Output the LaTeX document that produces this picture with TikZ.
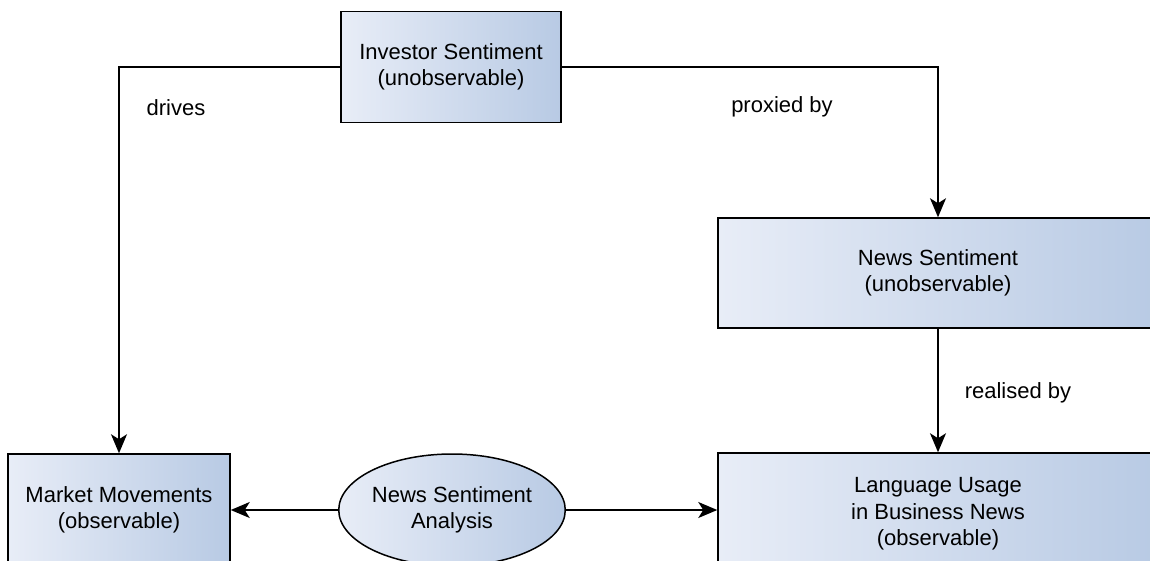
\documentclass[tikz,border=0pt]{standalone}
\usepackage{fontspec}
\setmainfont{Liberation Sans}
\usetikzlibrary{arrows.meta,shapes.geometric}
\definecolor{fillL}{RGB}{232,237,247}
\definecolor{fillR}{RGB}{184,202,228}
\tikzset{
  base/.style={draw=black, line width=1.5pt, left color=fillL, right color=fillR,
    align=center, inner sep=0pt, font=\fontsize{22}{26.5}\selectfont},
  box/.style={base, rectangle},
  oval/.style={base, ellipse},
  conn/.style={line width=1.5pt, -{Stealth[length=19pt,width=16pt,inset=5pt]}},
  lbl/.style={font=\fontsize{22}{26.5}\selectfont, inner sep=0pt}
}
\begin{document}
\begin{tikzpicture}[x=1pt,y=-1pt]
  \useasboundingbox (0,0) rectangle (1150,560);
  \clip (0,0) rectangle (1150,560);
  \fill[white] (0,0) rectangle (1150,560);

  % boxes
  \node[box, minimum width=220pt, minimum height=111pt] (inv) at (451,67)
    {Investor Sentiment\\(unobservable)};
  \node[box, minimum width=440pt, minimum height=110pt] (ns) at (938,273)
    {News Sentiment\\(unobservable)};
  \node[box, minimum width=222pt, minimum height=112pt] (mm) at (119,510)
    {Market Movements\\(observable)};
  \node[box, minimum width=440pt, minimum height=122pt] (lu) at (938,514)
    {Language Usage\\in Business News\\(observable)};
  \node[oval, minimum width=223pt, minimum height=112pt] (ana) at (452,510)
    {News Sentiment\\Analysis};

  % connectors
  \draw[conn] (inv.west) -| (mm.north);
  \draw[conn] (inv.east) -| (ns.north);
  \draw[conn] (ns.south) -- (lu.north);
  \draw[conn] (ana.west) -- (mm.east);
  \draw[conn] (ana.east) -- (ana.east -| lu.west);

  % connector labels
  \node[lbl] (ldrives) at (176,108) {drives};
  \node[lbl] (lproxy) at (782,107) {proxied by};
  \node[lbl] (lreal) at (1018,393) {realised by};
\end{tikzpicture}
\end{document}
